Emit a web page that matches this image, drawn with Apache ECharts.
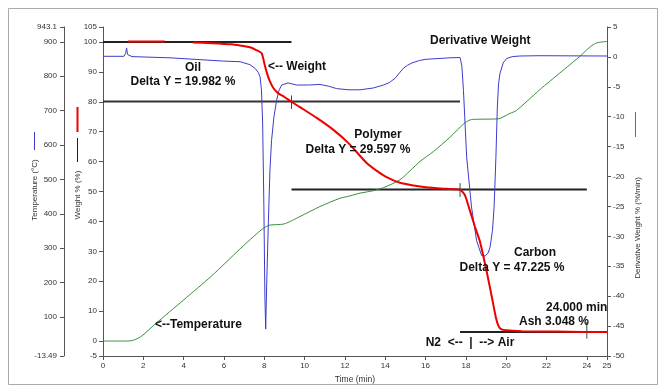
<!DOCTYPE html>
<html><head><meta charset="utf-8">
<script src="https://cdn.jsdelivr.net/npm/echarts@6/dist/echarts.min.js"></script>
<style>html,body{margin:0;padding:0;background:#fff}#c{width:665px;height:392px}</style>
</head><body><div id="c"></div>
<script>
// ---- data ----
const timeTicks = [0,2,4,6,8,10,12,14,16,18,20,22,24,25];
const weightTicks = [-5,0,10,20,30,40,50,60,70,80,90,100,105];
const tempTicks = [-13.49,100,200,300,400,500,600,700,800,900,943.1];
const derivTicks = [5,0,-5,-10,-15,-20,-25,-30,-35,-40,-45,-50];

// Weight % (time min, %)
const weightData = [
  [1.24,100.15],[3.07,100.15],[3.5,null],
  [4.46,99.85],[5.41,99.6],[6.4,99.2],[6.8,98.8],[7.3,98.2],[7.6,97.3],[7.87,96.2],
  [8.04,91.8],[8.16,89.0],[8.28,86.8],[8.45,84.6],[8.68,82.9],[9.0,81.6],[9.35,80.0],
  [9.77,78.2],[10.6,74.6],[11.43,70.6],[12.2,66.0],[13.04,59.8],[13.6,56.8],[14.04,54.9],
  [14.73,52.9],[15.4,52.0],[16.02,51.4],[17.01,50.9],[17.71,50.6],[17.95,48.8],[18.2,43.6],
  [18.45,38.2],[18.7,33.2],[19.03,23.3],[19.3,14.3],[19.49,7.8],[19.62,5.0],[19.75,4.0],
  [19.99,3.6],[20.78,3.3],[22.5,3.15],[23.76,3.05],[25.0,3.0]
];
// Temperature (time min, °C)
const tempData = [
  [0,30],[1.24,30],[1.54,33],[1.93,45],[2.58,79],[3.99,149],[5.4,220],[6.8,298],[7.49,335],
  [7.96,358],[8.28,367],[8.95,370],[9.4,381],[9.77,392],[10.76,421],[11.75,445],[12.25,452],
  [12.75,460],[13.4,467],[13.91,476],[14.73,499],[15.72,552],[16.39,581],[17.2,622],[17.96,665],
  [18.28,674],[18.7,675],[19.59,676],[20.19,692],[20.5,700],[21.67,761],[21.97,776],[23.66,858],
  [24.06,880],[24.32,892],[24.56,898],[25.0,901]
];
// Derivative Weight % (time min, %/min)
const derivData = [
  [0,0.1],[1.04,0.1],[1.12,0.6],[1.17,1.5],[1.22,0.4],[1.28,0.1],[1.44,0.05],[3.32,-0.15],
  [5.97,-0.7],[6.8,-0.8],[7.29,-1.3],[7.54,-1.9],[7.7,-2.6],[7.79,-3.3],[7.86,-5.5],[7.92,-11.2],
  [7.98,-25],[8.03,-40],[8.07,-45.5],[8.12,-38],[8.2,-27.9],[8.28,-19],[8.36,-14],[8.48,-10],
  [8.61,-7.3],[8.73,-5.6],[8.86,-4.7],[9.18,-4.35],[9.6,-4.7],[10.2,-4.7],[10.76,-4.6],[11.2,-4.9],
  [11.59,-5.3],[12.2,-5.5],[12.75,-5.5],[13.4,-5.2],[13.91,-4.7],[14.2,-4.3],[14.48,-3.6],[14.7,-2.7],
  [14.9,-1.9],[15.1,-1.4],[15.33,-1.0],[15.7,-0.6],[16.02,-0.4],[17.21,-0.15],[17.71,-0.1],
  [17.8,-1.5],[17.88,-5.6],[18.04,-16.8],[18.28,-25.1],[18.53,-30.7],[18.78,-33.2],[18.95,-33.3],
  [19.1,-32.8],[19.2,-31.8],[19.32,-29],[19.4,-25.1],[19.49,-16.8],[19.56,-8.4],[19.62,-4.5],
  [19.69,-2.8],[19.85,-1.0],[20.02,-0.27],[20.3,0.05],[20.68,0.15],[21.67,0.2],[25.0,0.15]
];
// Step-analysis reference levels (weight %)
const refOil = [[0,100],[9.35,100]];
const refOilEnd = [[0,80.05],[17.71,80.05]];
const refPolymerEnd = [[9.35,50.7],[24.0,50.7]];
const refAsh = [[17.71,3.05],[24.0,3.05]];
const markA = [[9.35,77.6],[9.35,82.1]];
const markB = [[17.71,48.2],[17.71,52.8]];
const markC = [[24.0,0.8],[24.0,6.4]];

const FONT = '"Liberation Sans", Arial, sans-serif';
const axisCol = '#555';
const lblStyle = {color:'#333', fontSize:8, fontFamily:FONT};

const chart = echarts.init(document.getElementById('c'), null, {renderer:'canvas'});

function refSeries(data, w, col, z){
  return {type:'line', yAxisIndex:0, data:data, symbol:'none', silent:true, z:z,
    lineStyle:{color:col, width:w}, animation:false};
}
function txt(text, x, y, align, extra){
  return Object.assign({type:'text', x:x, y:y, silent:true, z:100,
    style:Object.assign({text:text, fill:'#111', font:'bold 12px '+FONT, align:align||'left', verticalAlign:'middle'}, extra||{})});
}

const option = {
  animation:false,
  backgroundColor:'#fff',
  grid:{left:103, right:58, top:27, bottom:36, containLabel:false},
  xAxis:{type:'value', min:0, max:25, interval:2,
    name:'Time (min)', nameLocation:'middle', nameGap:16,
    nameTextStyle:{color:'#333', fontSize:8.5, fontFamily:FONT},
    axisLine:{show:true, onZero:false, lineStyle:{color:axisCol}},
    axisTick:{show:true, length:4, customValues:timeTicks, lineStyle:{color:axisCol}},
    axisLabel:{show:true, margin:6, customValues:timeTicks, ...lblStyle},
    splitLine:{show:false}},
  yAxis:[
    {type:'value', position:'left', min:-5, max:105,
      axisLine:{show:true, onZero:false, lineStyle:{color:axisCol}},
      axisTick:{show:true, length:4, customValues:weightTicks, lineStyle:{color:axisCol}},
      axisLabel:{show:true, margin:6, customValues:weightTicks, ...lblStyle},
      splitLine:{show:false}},
    {type:'value', position:'left', offset:39, min:-13.49, max:943.1,
      axisLine:{show:true, onZero:false, lineStyle:{color:axisCol}},
      axisTick:{show:true, length:4, customValues:tempTicks, lineStyle:{color:axisCol}},
      axisLabel:{show:true, margin:7, customValues:tempTicks, ...lblStyle},
      splitLine:{show:false}},
    {type:'value', position:'right', min:-50, max:5, interval:5,
      axisLine:{show:true, onZero:false, lineStyle:{color:axisCol}},
      axisTick:{show:true, length:4, customValues:derivTicks, lineStyle:{color:axisCol}},
      axisLabel:{show:true, margin:6, customValues:derivTicks, ...lblStyle},
      splitLine:{show:false}}
  ],
  series:[
    refSeries(refOil, 2, '#222', 2),
    refSeries(refOilEnd, 2, '#333', 2),
    refSeries(refPolymerEnd, 2, '#222', 2),
    refSeries(refAsh, 2, '#222', 2),
    refSeries(markA, 1, '#444', 6),
    refSeries(markB, 1, '#444', 6),
    refSeries(markC, 1, '#444', 6),
    {name:'Temperature', type:'line', yAxisIndex:1, data:tempData, symbol:'none', smooth:0.25,
      lineStyle:{color:'#3a8f3a', width:1}, z:3},
    {name:'Derivative Weight', type:'line', yAxisIndex:2, data:derivData, symbol:'none', smooth:false,
      lineStyle:{color:'#3c3ccc', width:1}, z:4},
    {name:'Weight', type:'line', yAxisIndex:0, data:weightData, symbol:'none', smooth:0.2,
      connectNulls:false, lineStyle:{color:'#ee0000', width:2}, z:5}
  ],
  graphic:[
    {type:'rect', silent:true, z:0, shape:{x:8.5, y:8.5, width:649, height:376}, style:{fill:'none', stroke:'#aaa', lineWidth:1}},
    // axis titles with legend markers
    txt('Temperature (°C)', 35, 190, 'center', {font:'8px '+FONT, fill:'#333'}),
    {type:'line', silent:true, shape:{x1:34.5, y1:132, x2:34.5, y2:150}, style:{stroke:'#3c3ccc', lineWidth:1}},
    txt('Weight % (%)', 78, 195, 'center', {font:'8px '+FONT, fill:'#333'}),
    {type:'line', silent:true, shape:{x1:77.5, y1:138, x2:77.5, y2:162}, style:{stroke:'#222', lineWidth:1}},
    {type:'line', silent:true, shape:{x1:77.5, y1:107, x2:77.5, y2:132}, style:{stroke:'#e00', lineWidth:2}},
    txt('Derivative Weight % (%/min)', 638, 228, 'center', {font:'8px '+FONT, fill:'#333'}),
    {type:'line', silent:true, shape:{x1:635.5, y1:112, x2:635.5, y2:137}, style:{stroke:'#3a8f3a', lineWidth:1}},
    // annotations
    txt('Oil', 193, 68, 'center'),
    txt('Delta Y = 19.982 %', 183, 82, 'center'),
    txt('<-- Weight', 268, 67, 'left'),
    txt('Derivative Weight', 430, 41, 'left'),
    txt('Polymer', 378, 135, 'center'),
    txt('Delta Y = 29.597 %', 358, 150, 'center'),
    txt('Carbon', 535, 253, 'center'),
    txt('Delta Y = 47.225 %', 512, 268, 'center'),
    txt('24.000 min', 546, 308, 'left'),
    txt('Ash 3.048 %', 519, 322, 'left'),
    txt('N2  <--  |  --> Air', 470, 343, 'center'),
    txt('<--Temperature', 155, 325, 'left')
  ]
};
// rotate the axis titles
option.graphic[1].rotation = Math.PI/2;
option.graphic[3].rotation = Math.PI/2;
option.graphic[6].rotation = Math.PI/2;
chart.setOption(option);
</script></body></html>
